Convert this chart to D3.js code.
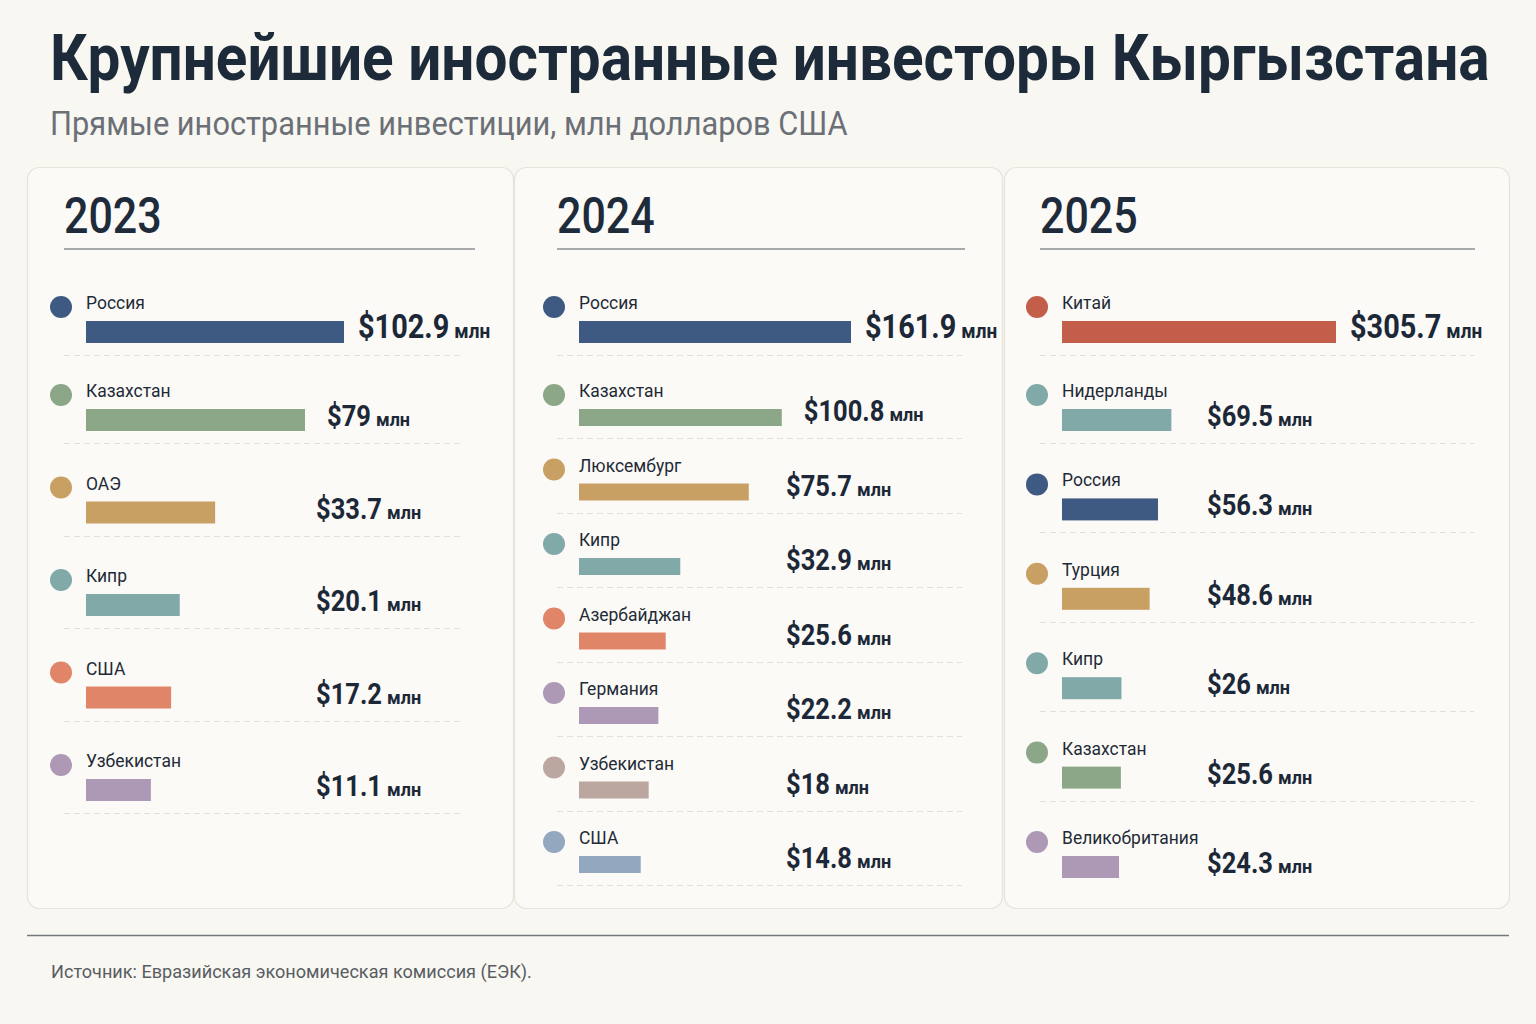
<!DOCTYPE html>
<html><head><meta charset="utf-8">
<script src="https://cdn.jsdelivr.net/npm/d3@7"></script>
<style>html,body{margin:0;padding:0;background:#f9f7f2;} svg{display:block}</style>
</head><body><svg id="c" width="1536" height="1024"></svg>
<script>
// ---------- DATA ----------
const titleText = "Крупнейшие иностранные инвесторы Кыргызстана";
const subtitleText = "Прямые иностранные инвестиции, млн долларов США";
const sourceText = "Источник: Евразийская экономическая комиссия (ЕЭК).";
const unitText = "млн";
const years = ["2023", "2024", "2025"];

const countries2023 = ["Россия", "Казахстан", "ОАЭ", "Кипр", "США", "Узбекистан"];
const values2023 = [102.9, 79, 33.7, 20.1, 17.2, 11.1];
const colors2023 = ["#3e5a82", "#8ca688", "#c9a063", "#80a9a8", "#e08568", "#ad98b5"];

const countries2024 = ["Россия", "Казахстан", "Люксембург", "Кипр", "Азербайджан", "Германия", "Узбекистан", "США"];
const values2024 = [161.9, 100.8, 75.7, 32.9, 25.6, 22.2, 18, 14.8];
const colors2024 = ["#3e5a82", "#8ca688", "#c9a063", "#80a9a8", "#e08568", "#ad98b5", "#bca7a0", "#93a7bf"];

const countries2025 = ["Китай", "Нидерланды", "Россия", "Турция", "Кипр", "Казахстан", "Великобритания"];
const values2025 = [305.7, 69.5, 56.3, 48.6, 26, 25.6, 24.3];
const colors2025 = ["#c25e4a", "#80a9a8", "#3e5a82", "#c9a063", "#80a9a8", "#8ca688", "#ad98b5"];

const panelData = [
  {year: years[0], names: countries2023, values: values2023, colors: colors2023},
  {year: years[1], names: countries2024, values: values2024, colors: colors2024},
  {year: years[2], names: countries2025, values: values2025, colors: colors2025}
];

// ---------- LAYOUT ----------
const layout = [
  {x0: 27, x1: 513, left: 64, ruleEnd: 475, sepEnd: 462, colX: 316, barMax: 258, lastSep: true},
  {x0: 514, x1: 1002, left: 557, ruleEnd: 965, sepEnd: 962, colX: 786, barMax: 272, lastSep: true},
  {x0: 1004, x1: 1509, left: 1040, ruleEnd: 1475, sepEnd: 1474, colX: 1207, barMax: 274, lastSep: false}
];
const FONT = "Roboto, 'Noto Sans', sans-serif";
const INK = "#1c2837";

const svg = d3.select("#c");
svg.append("rect").attr("width", 1536).attr("height", 1024).attr("fill", "#f9f7f2");

// draws a horizontally condensed text; returns its drawn width
function ctext(parent, x, y, str, size, weight, fill, factor, target) {
  const t = parent.append("text")
    .attr("font-family", FONT).attr("font-size", size).attr("font-weight", weight)
    .attr("fill", fill).text(str);
  const w = t.node().getComputedTextLength();
  const s = target ? target / w : factor;
  t.attr("transform", `translate(${x},${y}) scale(${s},1)`);
  return w * s;
}

// Title & subtitle
ctext(svg, 50, 80, titleText, 64, 700, "#1c2a3a", 1, 1440);
ctext(svg, 50, 135, subtitleText, 33, 400, "#6b7077", 1, 798);

// Panels
panelData.forEach((p, i) => {
  const L = layout[i];
  const g = svg.append("g");
  g.append("rect").attr("x", L.x0 + 0.5).attr("y", 167.5)
    .attr("width", L.x1 - L.x0).attr("height", 741).attr("rx", 12)
    .attr("fill", "#fbfaf6").attr("stroke", "#e7e3db").attr("stroke-width", 1.2);

  ctext(g, L.left, 233, p.year, 50, 500, "#1e2b3b", 0.86);

  g.append("line").attr("x1", L.left).attr("x2", L.ruleEnd).attr("y1", 249).attr("y2", 249)
    .attr("stroke", "#8b8e91").attr("stroke-width", 1.5);

  const n = p.names.length;
  const step = Math.min(92.5, (842 - 395) / (n - 2));
  const yRow = d3.scaleLinear().domain([1, n - 1]).range([395, 395 + step * (n - 2)]);
  const cy = k => (k === 0 ? 307 : yRow(k));
  const x = d3.scalePow().exponent(0.62).domain([0, d3.max(p.values)]).range([0, L.barMax]);

  p.names.forEach((name, k) => {
    const v = p.values[k];
    const col = p.colors[k];
    const yc = cy(k);
    const barH = (k === 0 || step > 85) ? 22 : 17;
    const barY = yc + 14;
    const barX = L.left + 22;
    const barW = x(v);
    const barEnd = barX + barW;
    const barBottom = barY + barH;

    g.append("circle").attr("cx", L.left - 3).attr("cy", yc).attr("r", 11).attr("fill", col);

    ctext(g, barX, yc + 2, name, 19, 400, "#1f2a36", 0.92);

    g.append("rect").attr("x", barX).attr("y", barY).attr("width", barW).attr("height", barH)
      .attr("fill", col);

    const vx = k === 0 ? barEnd + 14 : Math.max(barEnd + 22, L.colX);
    const vy = barBottom - 5;
    const vw = ctext(g, vx, vy, "$" + String(v), k === 0 ? 34 : 29, 700, INK, k === 0 ? 0.85 : 0.88);
    ctext(g, vx + vw + 5, vy, unitText, k === 0 ? 20 : 19, 700, INK, 0.95);

    if (k < n - 1 || L.lastSep) {
      const sy = Math.round(barBottom + 12) + 0.5;
      g.append("line").attr("x1", L.left).attr("x2", L.sepEnd).attr("y1", sy).attr("y2", sy)
        .attr("stroke", "#e3dfd7").attr("stroke-width", 1).attr("stroke-dasharray", "6,4");
    }
  });
});

// Footer
svg.append("line").attr("x1", 27).attr("x2", 1509).attr("y1", 935.5).attr("y2", 935.5)
  .attr("stroke", "#74787c").attr("stroke-width", 1.5);
ctext(svg, 51, 978, sourceText, 18, 400, "#585d63", 1, 481);
</script>
</body></html>
